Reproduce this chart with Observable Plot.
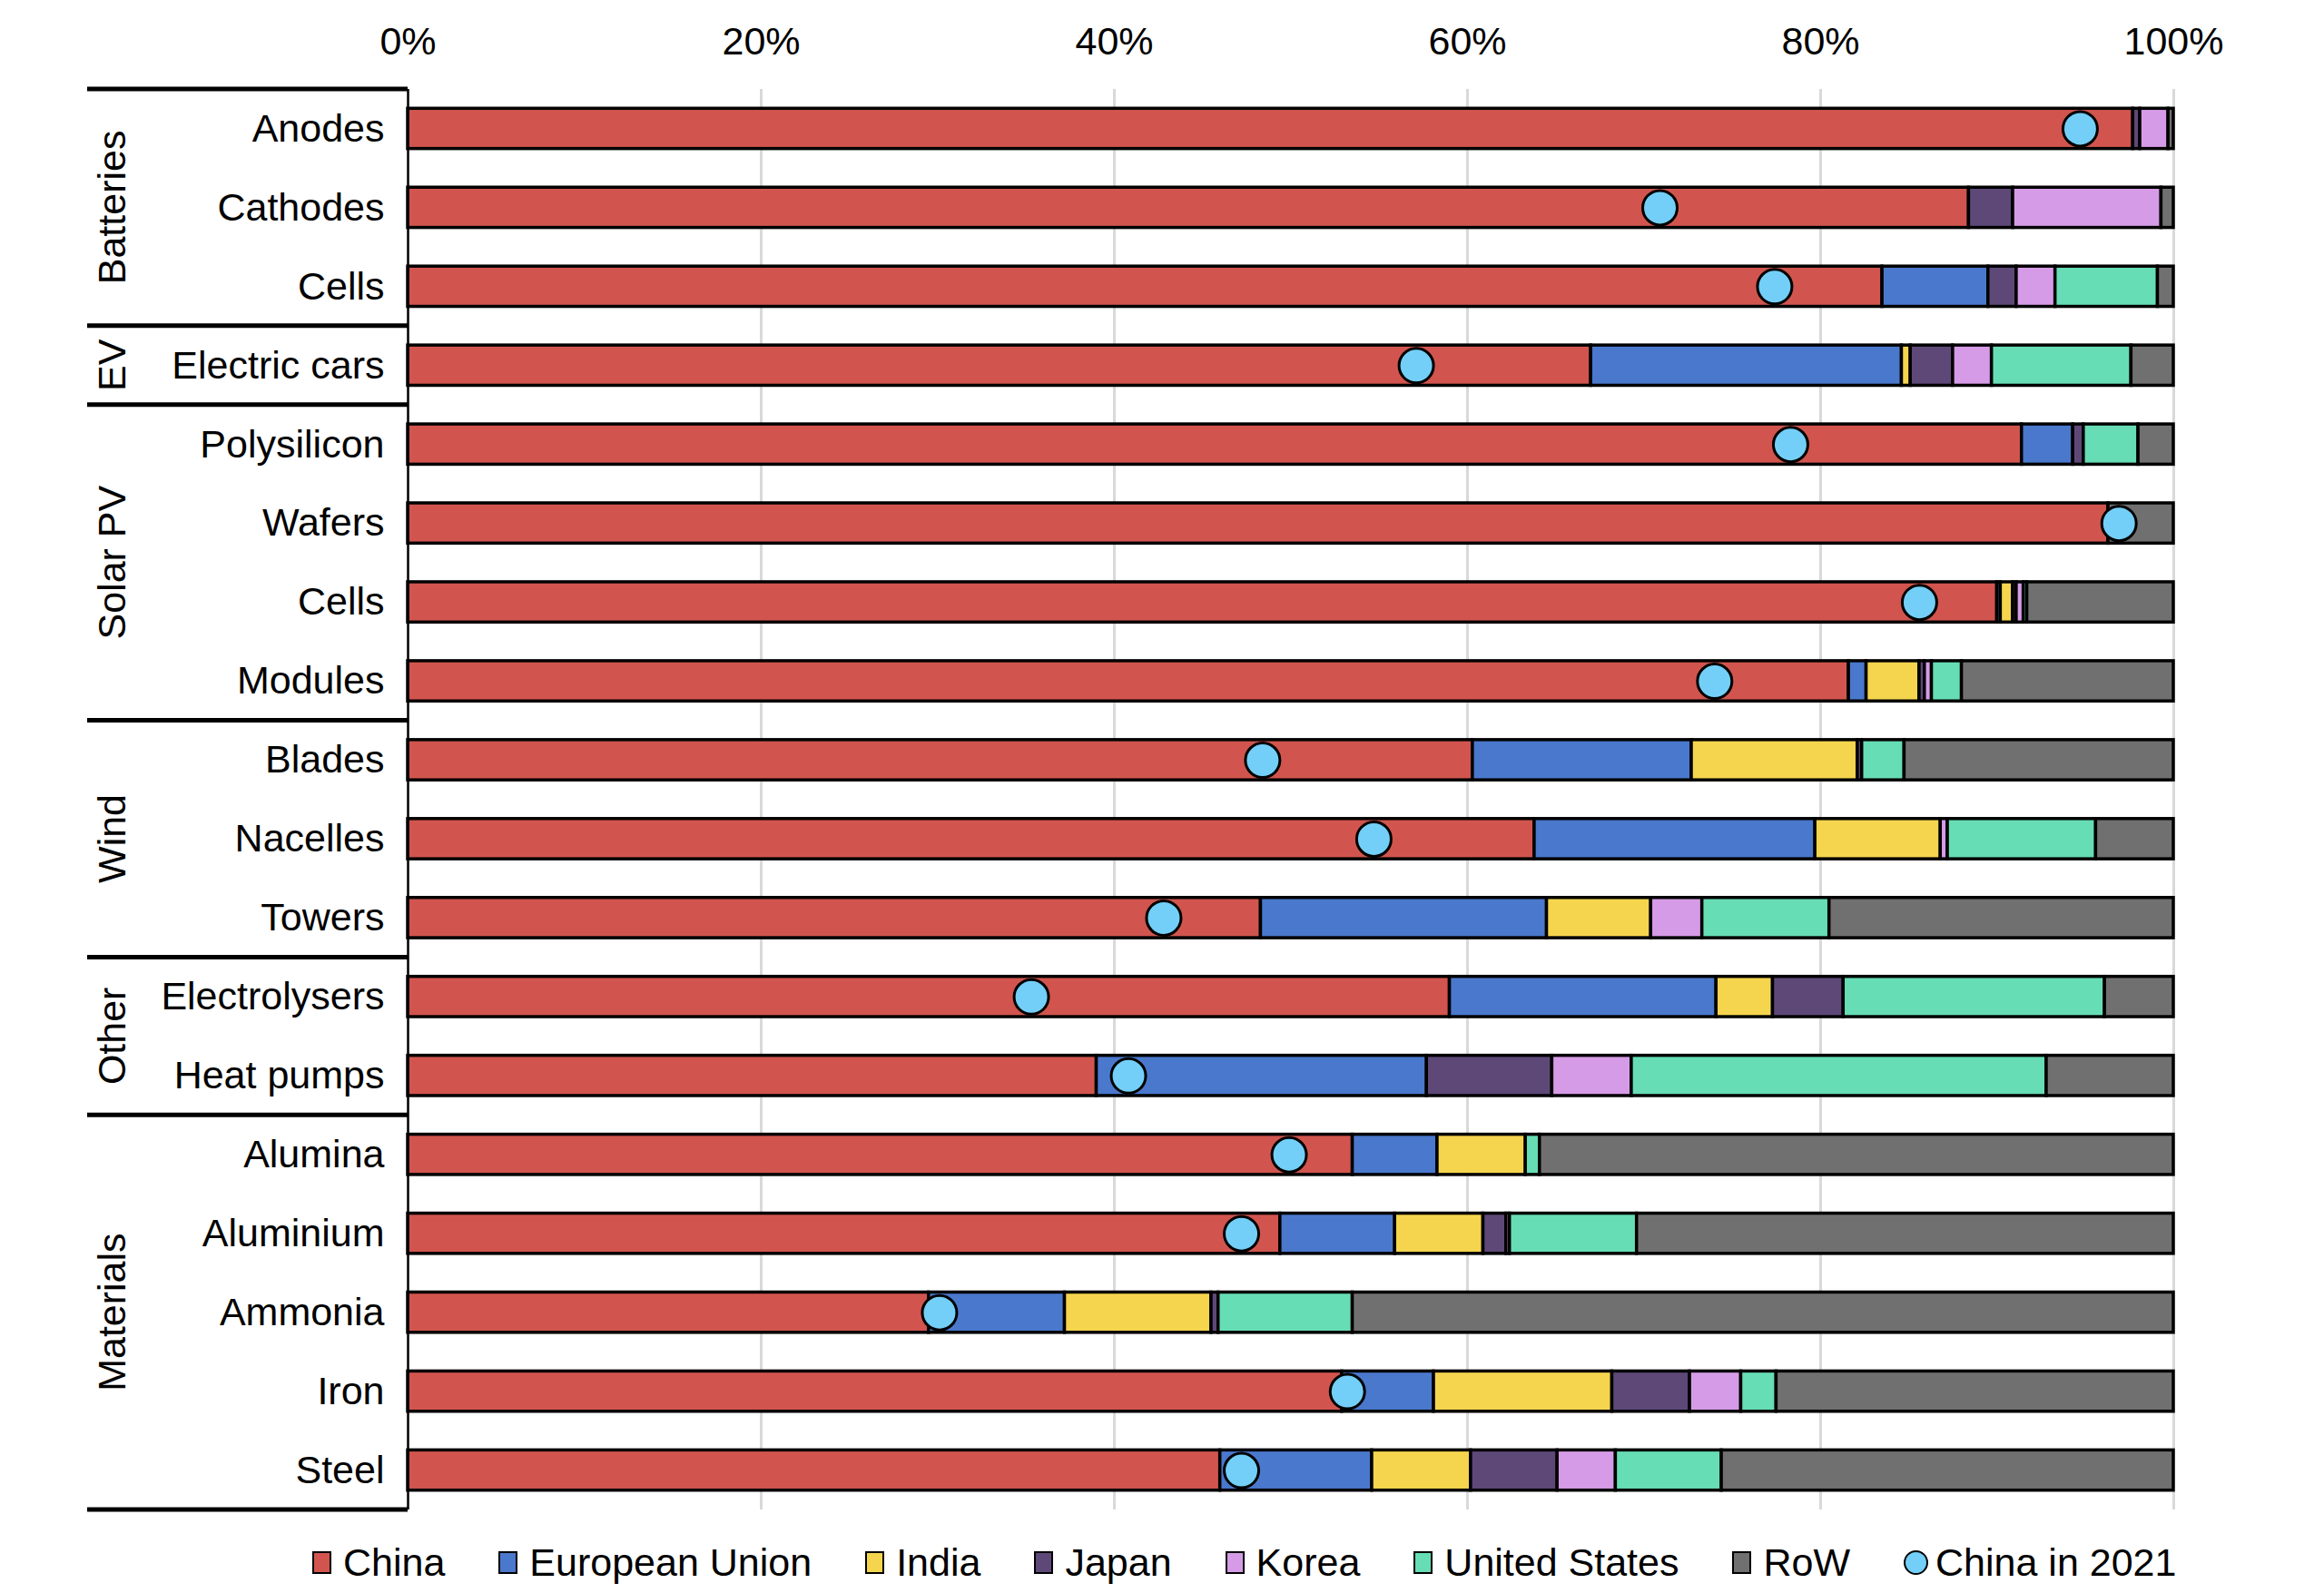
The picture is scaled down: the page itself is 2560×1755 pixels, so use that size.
<!DOCTYPE html>
<html>
<head>
<meta charset="utf-8">
<script src="https://cdn.jsdelivr.net/npm/d3@7"></script>
<script src="https://cdn.jsdelivr.net/npm/@observablehq/plot@0.6"></script>
<style>
  body { margin: 0; background: #fff; font-family: "Liberation Sans", Arial, sans-serif; }
  #legend { display: flex; align-items: center; margin-left: 344px; height: 62px; font-size: 43px; color: #000; }
  .item { display: flex; align-items: center; margin-right: 59px; }
  .sw { width: 21px; height: 25px; border: 2.5px solid #000; box-sizing: border-box; margin-right: 13px; }
  .ci { width: 27px; height: 27px; border: 2.5px solid #000; border-radius: 50%; box-sizing: border-box; margin-right: 8px; }
</style>
</head>
<body>
<div id="chart"></div>
<div id="legend"></div>
<script>
// ---- data ----
const categories = ["Anodes", "Cathodes", "Cells", "Electric cars", "Polysilicon", "Wafers", "Cells", "Modules",
  "Blades", "Nacelles", "Towers", "Electrolysers", "Heat pumps", "Alumina", "Aluminium", "Ammonia", "Iron", "Steel"];
const groups = ["Batteries", "Batteries", "Batteries", "EV", "Solar PV", "Solar PV", "Solar PV", "Solar PV",
  "Wind", "Wind", "Wind", "Other", "Other", "Materials", "Materials", "Materials", "Materials", "Materials"];
const regions = ["China", "European Union", "India", "Japan", "Korea", "United States", "RoW"];
const regionColors = ["#D1554E", "#4A78CC", "#F5D54E", "#5E4878", "#D69BE6", "#66DDB5", "#6F706F"];

const china = [97.7, 88.4, 83.5, 67.0, 91.4, 96.3, 90.0, 81.6, 60.3, 63.8, 48.3, 59.0, 39.0, 53.5, 49.4, 29.5, 52.9, 46.0];
const eu    = [0, 0, 6.0, 17.6, 2.9, 0, 0.2, 1.0, 12.4, 15.9, 16.2, 15.1, 18.7, 4.8, 6.5, 7.7, 5.2, 8.6];
const india = [0, 0, 0, 0.5, 0, 0, 0.7, 3.0, 9.4, 7.1, 5.9, 3.2, 0, 5.0, 5.0, 8.3, 10.1, 5.6];
const japan = [0.4, 2.5, 1.6, 2.4, 0.6, 0, 0.2, 0.3, 0.25, 0, 0, 4.0, 7.1, 0, 1.3, 0.4, 4.4, 4.9];
const korea = [1.6, 8.4, 2.2, 2.2, 0, 0, 0.4, 0.4, 0, 0.4, 2.9, 0, 4.5, 0, 0.2, 0, 2.9, 3.3];
const us    = [0, 0, 5.8, 7.9, 3.1, 0, 0.2, 1.7, 2.4, 8.4, 7.2, 14.8, 23.5, 0.8, 7.2, 7.6, 2.0, 6.0];
const row   = [0.3, 0.7, 0.9, 2.4, 2.0, 3.7, 8.3, 12.0, 15.25, 4.4, 19.5, 3.9, 7.2, 35.9, 30.4, 46.5, 22.5, 25.6];
const china2021 = [94.7, 70.9, 77.4, 57.1, 78.3, 96.9, 85.6, 74.0, 48.4, 54.7, 42.8, 35.3, 40.8, 49.9, 47.2, 30.1, 53.2, 47.2];
const xTicks = [0, 20, 40, 60, 80, 100];

// ---- build tables ----
const series = [china, eu, india, japan, korea, us, row];
const stackRows = [];
categories.forEach((c, i) => {
  regions.forEach((r, k) => {
    const v = series[k][i];
    if (v > 0) stackRows.push({i, region: r, value: v});
  });
});
const dots = china2021.map((v, i) => ({i, value: v}));

const FONT = "'Liberation Sans', Arial, sans-serif";

const plot = Plot.plot({
  width: 2560,
  height: 1690,
  marginTop: 98,
  marginBottom: 27,
  marginLeft: 449,
  marginRight: 166,
  style: {fontFamily: FONT, fontSize: "43px", color: "#000", background: "#fff"},
  x: {domain: [0, 100]},
  y: {type: "band", domain: d3.range(categories.length), paddingInner: 0.49, paddingOuter: 0.245, round: false},
  color: {domain: regions, range: regionColors},
  marks: [
    Plot.gridX({ticks: xTicks.slice(1), stroke: "#d9d9d9", strokeOpacity: 1, strokeWidth: 3}),
    Plot.axisX({anchor: "top", ticks: xTicks, tickFormat: d => d + "%", tickSize: 0, tickPadding: 39, label: null, fontSize: 43, fill: "#000"}),
    Plot.axisY({tickSize: 0, tickPadding: 26, tickFormat: i => categories[i], label: null, fontSize: 43, fill: "#000"}),
    Plot.barX(stackRows, {x: "value", y: "i", fill: "region", stroke: "#000", strokeWidth: 3.5, order: regions}),
    Plot.ruleX([0], {stroke: "#000", strokeWidth: 2.5}),
    Plot.dot(dots, {x: "value", y: "i", r: 19, fill: "#73CFF8", stroke: "#000", strokeWidth: 3})
  ]
});

// group separators and vertical group labels, positioned through Plot's own scales
const ys = plot.scale("y");
const xs = plot.scale("x");
const step = ys.step ?? (ys.apply(1) - ys.apply(0));
const bw = ys.bandwidth ?? step * 0.51;
const gap = (step - bw) / 2;
const x0 = xs.apply(0);
const svg = d3.select(plot);
const groupList = [];
groups.forEach((g, i) => {
  if (!groupList.length || groupList[groupList.length - 1].name !== g) groupList.push({name: g, start: i, end: i});
  else groupList[groupList.length - 1].end = i;
});
const boundaries = [];
groupList.forEach(g => {
  g.top = ys.apply(g.start) - gap;
  g.bottom = ys.apply(g.end) + bw + gap;
  boundaries.push(g.top);
});
boundaries.push(groupList[groupList.length - 1].bottom);
boundaries.forEach(y => {
  svg.append("line").attr("x1", 96).attr("x2", x0).attr("y1", y).attr("y2", y)
    .attr("stroke", "#000").attr("stroke-width", 5);
});
groupList.forEach(g => {
  const cy = (g.top + g.bottom) / 2;
  svg.append("text").attr("transform", `translate(123,${cy}) rotate(-90)`)
    .attr("text-anchor", "middle").attr("dominant-baseline", "central")
    .attr("font-size", 43).attr("font-family", FONT).attr("fill", "#000")
    .text(g.name);
});

document.getElementById("chart").appendChild(plot);

// legend
const legend = d3.select("#legend");
regions.forEach((r, k) => {
  const it = legend.append("div").attr("class", "item");
  it.append("div").attr("class", "sw").style("background", regionColors[k]);
  it.append("span").text(r);
});
const it = legend.append("div").attr("class", "item").style("margin-right", "0");
it.append("div").attr("class", "ci").style("background", "#73CFF8");
it.append("span").text("China in 2021");
</script>
</body>
</html>
